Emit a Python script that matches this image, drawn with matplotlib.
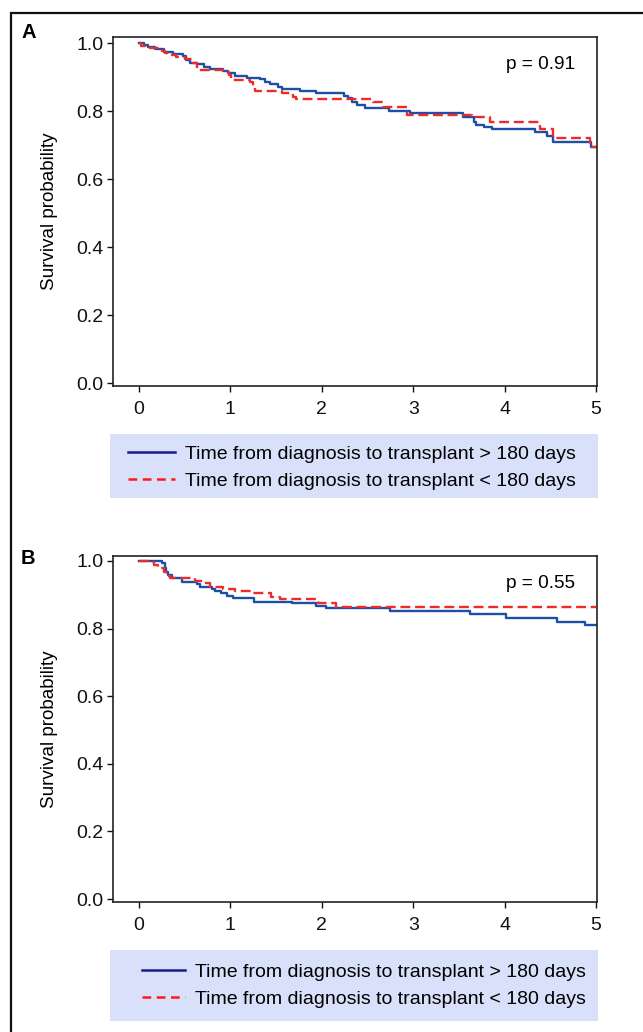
import matplotlib
matplotlib.use("Agg")
import matplotlib.pyplot as plt
from matplotlib.lines import Line2D
from matplotlib.patches import Rectangle

# (1) Data: step start times (years) and survival
a_late_t = [0, .05, .10, .175, .27, .37, .48, .51, .56, .63, .71, .78, .92, .97, 1.05, 1.18,
            1.32, 1.38, 1.43, 1.52, 1.56, 1.76, 1.94, 2.24, 2.29, 2.33, 2.38, 2.47, 2.73, 2.96,
            3.55, 3.66, 3.69, 3.77, 3.86, 4.33, 4.46, 4.53, 4.95, 5.0]
a_late_s = [1.0, .995, .989, .981, .975, .968, .962, .950, .942, .937, .930, .925, .919, .911,
            .904, .898, .893, .886, .880, .870, .864, .859, .854, .845, .837, .827, .818, .810,
            .800, .793, .781, .769, .759, .752, .747, .739, .726, .710, .695, .695]

a_early_t = [0, .02, .12, .25, .28, .36, .41, .50, .59, .63, .92, .98, 1.01, 1.21, 1.25, 1.27,
             1.56, 1.69, 1.72, 2.56, 2.67, 2.93, 3.64, 3.84, 4.39, 4.53, 4.93, 5.0]
a_early_s = [1.0, .991, .984, .977, .971, .965, .960, .952, .940, .922, .916, .906, .891, .886,
             .874, .860, .852, .842, .834, .827, .813, .788, .781, .769, .746, .720, .693, .693]

b_late_t = [0, .25, .28, .30, .32, .36, .47, .63, .67, .80, .83, .90, .96, 1.03, 1.26, 1.67,
            1.94, 2.05, 2.75, 3.62, 4.02, 4.57, 4.88, 5.0]
b_late_s = [1.0, .993, .980, .968, .959, .949, .937, .931, .924, .916, .911, .904, .897, .891,
            .879, .875, .867, .860, .852, .842, .832, .820, .811, .811]

b_early_t = [0, .12, .17, .21, .27, .30, .34, .61, .70, .78, .92, 1.05, 1.25, 1.45, 1.54,
             1.96, 2.16, 5.0]
b_early_s = [1.0, .996, .988, .978, .968, .957, .949, .941, .934, .924, .917, .911, .904,
             .894, .887, .875, .863, .863]

p_values = ["p = 0.91", "p = 0.55"]
panel_tags = ["A", "B"]
legend_labels = ["Time from diagnosis to transplant > 180 days",
                 "Time from diagnosis to transplant < 180 days"]
x_ticks = [0, 1, 2, 3, 4, 5]
y_ticks = [0.0, 0.2, 0.4, 0.6, 0.8, 1.0]

# (2) Figure
plt.rcParams["font.family"] = ["Liberation Sans", "DejaVu Sans"]

W, H = 643, 1032
fig = plt.figure(figsize=(W / 100, H / 100), dpi=100)

def fx(px):
    return px / W

def fy(py):
    return 1 - py / H

blue = "#1c4fa6"
red = "#ee2b2b"

# pixel layout: axes top, axes bottom, y=1.0 row, y=0.0 row, tag row
panels = [
    (37, 386, 43, 383, 32, a_late_t, a_late_s, a_early_t, a_early_s),
    (556, 902, 561, 899, 559, b_late_t, b_late_s, b_early_t, b_early_s),
]
# legend: box top, box bottom, handle start x, first row y, handle length
legend_boxes = [(434, 498, 128, 454, 2.4), (950, 1021, 142, 972, 2.2)]

for i, (top, bot, y1, y0, ty, lt, ls, et, es) in enumerate(panels):
    ax = fig.add_axes([fx(113), fy(bot), fx(597) - fx(113), fy(top) - fy(bot)])
    ax.step(lt, ls, where="post", color=blue, lw=1.7)
    ax.step(et, es, where="post", color=red, lw=1.7, linestyle=(0, (4.2, 2.0)))
    ppu = (y0 - y1)
    ax.set_ylim(-(bot - y0) / ppu, 1 + (y1 - top) / ppu)
    ax.set_xlim(-0.284, 5.011)
    ax.set_xticks(x_ticks)
    ax.set_yticks(y_ticks)
    ax.set_yticklabels([f"{v:.1f}" for v in y_ticks])
    ax.tick_params(direction="out", length=4, width=1, labelsize=14, colors="#111111")
    ax.tick_params(axis="x", pad=7)
    ax.tick_params(axis="y", pad=3)
    for sp in ax.spines.values():
        sp.set_linewidth(1.2)
        sp.set_color("#222222")
    ax.set_ylabel("Survival probability", fontsize=13.6)
    ax.yaxis.set_label_coords(-0.114, 0.5)
    ax.text(0.955, 0.92, p_values[i], transform=ax.transAxes, ha="right", va="center",
            fontsize=13.7)
    fig.text(fx(21), fy(ty), panel_tags[i], fontsize=14.5, fontweight="bold",
             va="center", ha="left")

    # legend
    bt, bb, hx, ly, hl = legend_boxes[i]
    fig.patches.append(Rectangle((fx(110), fy(bb)), fx(598) - fx(110), fy(bt) - fy(bb),
                                 transform=fig.transFigure, facecolor="#d9e0fa",
                                 edgecolor="none", zorder=0))
    handles = [Line2D([], [], color="#1a1a8a", lw=1.8),
               Line2D([], [], color="#ff1a1a", lw=1.8, linestyle=(0, (3.5, 2.2)))]
    fig.legend(handles, legend_labels, loc="center left",
               bbox_to_anchor=(fx(hx), fy(ly + 13.5)), frameon=False,
               fontsize=14, handlelength=hl, handletextpad=0.55, labelspacing=0.48,
               borderpad=0, borderaxespad=0)

# outer frame
fig.patches.append(Rectangle((fx(11), -0.1), 1.2, fy(13) + 0.1, transform=fig.transFigure,
                             facecolor="none", edgecolor="#111111", lw=1.6))

plt.savefig("out.png", dpi=100)
